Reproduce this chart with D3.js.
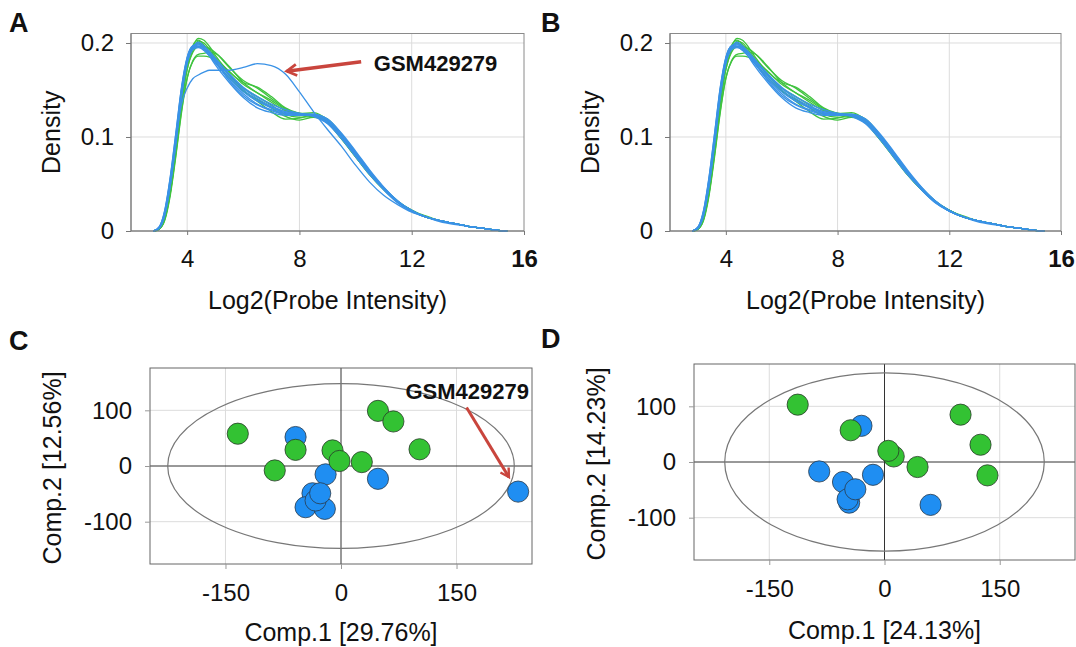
<!DOCTYPE html>
<html>
<head>
<meta charset="utf-8">
<script src="https://cdn.jsdelivr.net/npm/d3@7"></script>
<style>
  body { margin: 0; background: #fff; }
  svg text { font-family: "Liberation Sans", Arial, sans-serif; fill: #111; }
</style>
</head>
<body>
<div id="chart"></div>
<script>
// density curves, x positions shared by every curve
var densX = [2.8, 3.0, 3.2, 3.4, 3.6, 3.8, 4.0, 4.2, 4.4, 4.6, 4.8, 5.0, 5.5, 6.0, 6.5, 7.0, 7.5, 8.0, 8.5, 9.0, 9.5, 10.0, 10.5, 11.0, 11.5, 12.0, 12.5, 13.0, 13.5, 14.0, 14.5, 15.0, 15.4]

var blue1 = [0, 0.003, 0.018, 0.050, 0.097, 0.148, 0.183, 0.197, 0.199, 0.195, 0.188, 0.180, 0.163, 0.148, 0.138, 0.131, 0.126, 0.124, 0.123, 0.116, 0.100, 0.081, 0.062, 0.045, 0.031, 0.021, 0.015, 0.011, 0.008, 0.005, 0.003, 0.001, 0]
var blue2 = [0, 0.004, 0.022, 0.058, 0.105, 0.153, 0.185, 0.196, 0.196, 0.192, 0.186, 0.179, 0.161, 0.146, 0.135, 0.129, 0.125, 0.124, 0.124, 0.118, 0.102, 0.083, 0.063, 0.046, 0.032, 0.022, 0.015, 0.011, 0.008, 0.005, 0.003, 0.001, 0]
var blue3 = [0, 0.003, 0.016, 0.048, 0.092, 0.142, 0.178, 0.193, 0.197, 0.194, 0.189, 0.182, 0.165, 0.150, 0.139, 0.132, 0.127, 0.125, 0.124, 0.119, 0.103, 0.084, 0.064, 0.046, 0.032, 0.021, 0.015, 0.010, 0.007, 0.005, 0.003, 0.001, 0]
var blue4 = [0, 0.004, 0.020, 0.055, 0.100, 0.150, 0.182, 0.195, 0.201, 0.197, 0.190, 0.181, 0.160, 0.144, 0.134, 0.128, 0.124, 0.123, 0.123, 0.117, 0.101, 0.082, 0.063, 0.046, 0.031, 0.021, 0.015, 0.011, 0.008, 0.005, 0.003, 0.001, 0]
var blue5 = [0, 0.003, 0.019, 0.052, 0.098, 0.146, 0.180, 0.194, 0.198, 0.196, 0.191, 0.184, 0.167, 0.152, 0.141, 0.133, 0.127, 0.124, 0.122, 0.115, 0.099, 0.080, 0.061, 0.044, 0.030, 0.021, 0.015, 0.011, 0.008, 0.005, 0.003, 0.001, 0]
var blue6 = [0, 0.004, 0.021, 0.057, 0.104, 0.152, 0.184, 0.197, 0.199, 0.194, 0.186, 0.177, 0.158, 0.142, 0.131, 0.126, 0.123, 0.123, 0.124, 0.119, 0.104, 0.085, 0.065, 0.047, 0.032, 0.022, 0.015, 0.011, 0.008, 0.005, 0.003, 0.001, 0]
var blue7 = [0, 0.003, 0.017, 0.049, 0.095, 0.145, 0.179, 0.193, 0.195, 0.193, 0.189, 0.183, 0.167, 0.153, 0.143, 0.135, 0.129, 0.125, 0.122, 0.114, 0.098, 0.079, 0.060, 0.044, 0.030, 0.021, 0.015, 0.011, 0.008, 0.005, 0.003, 0.001, 0]
var green1 = [0, 0.002, 0.013, 0.042, 0.088, 0.138, 0.176, 0.196, 0.205, 0.203, 0.196, 0.187, 0.169, 0.158, 0.153, 0.143, 0.131, 0.125, 0.123, 0.115, 0.098, 0.079, 0.060, 0.044, 0.031, 0.022, 0.015, 0.011, 0.008, 0.005, 0.003, 0.001, 0]
var green2 = [0, 0.002, 0.012, 0.040, 0.082, 0.128, 0.163, 0.181, 0.188, 0.189, 0.190, 0.189, 0.175, 0.158, 0.147, 0.137, 0.128, 0.125, 0.126, 0.118, 0.100, 0.080, 0.061, 0.045, 0.031, 0.022, 0.015, 0.011, 0.008, 0.005, 0.003, 0.001, 0]
var green3 = [0, 0.003, 0.015, 0.045, 0.090, 0.140, 0.178, 0.195, 0.200, 0.197, 0.191, 0.184, 0.166, 0.150, 0.138, 0.127, 0.119, 0.120, 0.124, 0.119, 0.103, 0.083, 0.063, 0.046, 0.032, 0.022, 0.015, 0.011, 0.008, 0.005, 0.003, 0.001, 0]
var green4 = [0, 0.002, 0.014, 0.044, 0.087, 0.136, 0.172, 0.190, 0.196, 0.196, 0.194, 0.190, 0.174, 0.160, 0.152, 0.141, 0.130, 0.125, 0.124, 0.116, 0.098, 0.079, 0.060, 0.044, 0.031, 0.022, 0.016, 0.011, 0.008, 0.005, 0.003, 0.001, 0]
var green5 = [0, 0.002, 0.013, 0.041, 0.085, 0.134, 0.172, 0.192, 0.202, 0.200, 0.193, 0.185, 0.166, 0.152, 0.143, 0.134, 0.124, 0.121, 0.122, 0.117, 0.100, 0.081, 0.062, 0.045, 0.031, 0.022, 0.015, 0.011, 0.008, 0.005, 0.003, 0.001, 0]
var green6 = [0, 0.002, 0.011, 0.038, 0.080, 0.126, 0.162, 0.180, 0.186, 0.186, 0.185, 0.182, 0.170, 0.156, 0.147, 0.139, 0.129, 0.124, 0.123, 0.117, 0.100, 0.081, 0.062, 0.045, 0.031, 0.022, 0.015, 0.011, 0.008, 0.005, 0.003, 0.001, 0]
var green7 = [0, 0.003, 0.016, 0.047, 0.093, 0.143, 0.180, 0.197, 0.203, 0.198, 0.190, 0.181, 0.163, 0.149, 0.140, 0.131, 0.122, 0.118, 0.121, 0.118, 0.102, 0.082, 0.062, 0.045, 0.031, 0.022, 0.015, 0.011, 0.008, 0.005, 0.003, 0.001, 0]
// GSM429279 before normalisation
var outlier = [0, 0.003, 0.018, 0.052, 0.098, 0.135, 0.152, 0.162, 0.166, 0.169, 0.171, 0.171, 0.171, 0.174, 0.178, 0.176, 0.167, 0.148, 0.127, 0.108, 0.090, 0.070, 0.052, 0.038, 0.028, 0.020, 0.015, 0.011, 0.008, 0.005, 0.003, 0.001, 0]

var greenCurves = [green1, green2, green3, green4, green5, green6, green7]
var blueCurvesA = [blue1, blue2, blue3, blue4, blue5, blue6, blue7, outlier]
var blueCurvesB = [blue1, blue2, blue3, blue4, blue5, blue6, blue7]

var densXTicks = [4, 8, 12, 16]
var densYTicks = [0, 0.1, 0.2]
var densYLabels = ['0', '0.1', '0.2']

// PCA scores [comp1, comp2]
var pcaC_blue = [[-59, 52], [-20, -15], [-37, -49], [-46, -74], [-21, -77], [-33, -62], [-27, -49], [48, -23], [230, -46]]
var pcaC_green = [[-134, 58], [-59, 29], [-86, -8], [-11, 28], [-2, 9], [27, 7], [48, 99], [68, 80], [102, 30]]
var pcaD_blue = [[-30, 65], [-85, -17], [-54, -36], [-46, -73], [-48, -67], [-38, -49], [-15, -23], [60, -77]]
var pcaD_green = [[-113, 103], [-44, 57], [12, 10], [5, 20], [43, -9], [99, 85], [125, 31], [134, -24]]
var ellipseC = [225, 148]
var ellipseD = [208, 160]
var pcaTicksX = [-150, 0, 150]
var pcaTicksY = [-100, 0, 100]

var blueCol = '#3a92e6'
var greenCol = '#3fc33f'
var dotBlue = '#1f8ef2'
var dotGreen = '#33c233'
var red = '#c9453d'

var svg = d3.select('#chart')
            .append('svg')
            .attr('width', 1076)
            .attr('height', 647)

var defs = svg.append('defs')
defs.append('marker')
    .attr('id', 'arrow')
    .attr('viewBox', '0 0 10 10')
    .attr('refX', 8)
    .attr('refY', 5)
    .attr('markerWidth', 4)
    .attr('markerHeight', 4)
    .attr('orient', 'auto')
    .append('path')
    .attr('d', 'M1,1 L8,5 L1,9')
    .attr('fill', 'none')
    .attr('stroke', red)
    .attr('stroke-width', 2)

function panelLetter(x, y, t){
    svg.append('text')
        .attr('x', x)
        .attr('y', y)
        .style('font-size', '27px')
        .style('font-weight', 'bold')
        .text(t)
}

function density(box, greens, blues, note){
    var x = d3.scaleLinear().domain([2, 16]).range([box.l, box.r])
    var y = d3.scaleLinear().domain([0, 0.2101]).range([box.b, box.t])
    var g = svg.append('g')

    // grid
    g.selectAll('.vg').data([4, 8, 12]).enter().append('line')
        .attr('x1', function(d){ return x(d) }).attr('x2', function(d){ return x(d) })
        .attr('y1', box.t).attr('y2', box.b)
        .attr('stroke', '#dcdcdc')
    g.selectAll('.hg').data([0.1, 0.2]).enter().append('line')
        .attr('x1', box.l).attr('x2', box.r)
        .attr('y1', function(d){ return y(d) }).attr('y2', function(d){ return y(d) })
        .attr('stroke', '#dcdcdc')
    g.append('rect')
        .attr('x', box.l).attr('y', box.t)
        .attr('width', box.r - box.l).attr('height', box.b - box.t)
        .attr('fill', 'none').attr('stroke', '#8a8a8a')

    var line = d3.line()
        .x(function(d, i){ return x(densX[i]) })
        .y(function(d){ return y(d) })
        .curve(d3.curveMonotoneX)
    g.selectAll('.gc').data(greens).enter().append('path')
        .attr('d', line).attr('fill', 'none')
        .attr('stroke', greenCol).attr('stroke-width', 1.3)
    g.selectAll('.bc').data(blues).enter().append('path')
        .attr('d', line).attr('fill', 'none')
        .attr('stroke', blueCol).attr('stroke-width', 1.3)

    var ax = g.append('g')
        .attr('transform', 'translate(0,' + box.b + ')')
        .call(d3.axisBottom(x).tickValues(densXTicks).tickSize(4).tickPadding(15).tickFormat(d3.format('d')))
    var ay = g.append('g')
        .attr('transform', 'translate(' + box.l + ',0)')
        .call(d3.axisLeft(y).tickValues(densYTicks).tickSize(5).tickPadding(12).tickFormat(function(d, i){ return densYLabels[i] }))
    ax.select('.domain').remove()
    ay.select('.domain').remove()
    g.selectAll('.tick line').attr('stroke', '#777')
    g.selectAll('.tick text').style('font-size', '24px').style('font-family', '"Liberation Sans", Arial, sans-serif').attr('fill', '#111')
    ax.selectAll('.tick text').filter(function(d){ return d == 16 }).style('font-weight', 'bold')
    g.append('line').attr('x1', box.l).attr('x2', box.r).attr('y1', box.b).attr('y2', box.b).attr('stroke', '#777')
    g.append('line').attr('x1', box.l).attr('x2', box.l).attr('y1', box.t).attr('y2', box.b).attr('stroke', '#777')

    g.append('text')
        .attr('x', (box.l + box.r) / 2)
        .attr('y', box.b + 78)
        .attr('text-anchor', 'middle')
        .style('font-size', '25px')
        .text('Log2(Probe Intensity)')
    g.append('text')
        .attr('transform', 'translate(' + (box.l - 71) + ',' + (box.t + box.b) / 2 + ') rotate(-90)')
        .attr('text-anchor', 'middle')
        .style('font-size', '25px')
        .text('Density')

    if(note){
        g.append('line')
            .attr('x1', x(note.from[0])).attr('y1', y(note.from[1]))
            .attr('x2', x(note.to[0])).attr('y2', y(note.to[1]))
            .attr('stroke', red).attr('stroke-width', 3.5)
            .attr('marker-end', 'url(#arrow)')
        g.append('text')
            .attr('x', x(note.label[0])).attr('y', y(note.label[1]) + 8)
            .style('font-size', '22px').style('font-weight', 'bold')
            .text('GSM429279')
    }
}

function pca(box, blues, greens, ell, xTitle, yTitle, note){
    var x = d3.scaleLinear().domain([-248, 248]).range([box.l, box.r])
    var y = d3.scaleLinear().domain([-176, 176]).range([box.b, box.t])
    var g = svg.append('g')

    g.selectAll('.vg').data([-150, 150]).enter().append('line')
        .attr('x1', function(d){ return x(d) }).attr('x2', function(d){ return x(d) })
        .attr('y1', box.t).attr('y2', box.b)
        .attr('stroke', '#dcdcdc')
    g.selectAll('.hg').data([-100, 100]).enter().append('line')
        .attr('x1', box.l).attr('x2', box.r)
        .attr('y1', function(d){ return y(d) }).attr('y2', function(d){ return y(d) })
        .attr('stroke', '#dcdcdc')
    g.append('line').attr('x1', x(0)).attr('x2', x(0)).attr('y1', box.t).attr('y2', box.b).attr('stroke', '#333')
    g.append('line').attr('x1', box.l).attr('x2', box.r).attr('y1', y(0)).attr('y2', y(0)).attr('stroke', '#333')
    g.append('rect')
        .attr('x', box.l).attr('y', box.t)
        .attr('width', box.r - box.l).attr('height', box.b - box.t)
        .attr('fill', 'none').attr('stroke', '#666')

    g.append('ellipse')
        .attr('cx', x(0)).attr('cy', y(0))
        .attr('rx', x(ell[0]) - x(0)).attr('ry', y(0) - y(ell[1]))
        .attr('fill', 'none').attr('stroke', '#777').attr('stroke-width', 1.2)

    // plain hyphen minus like the original
    var plain = function(d){ return String(d) }
    var ax = g.append('g')
        .attr('transform', 'translate(0,' + box.b + ')')
        .call(d3.axisBottom(x).tickValues(pcaTicksX).tickSize(5).tickPadding(box.xpad).tickFormat(plain))
    var ay = g.append('g')
        .attr('transform', 'translate(' + box.l + ',0)')
        .call(d3.axisLeft(y).tickValues(pcaTicksY).tickSize(5).tickPadding(13).tickFormat(plain))
    ax.select('.domain').remove()
    ay.select('.domain').remove()
    g.selectAll('.tick line').attr('stroke', '#999')
    g.selectAll('.tick text').style('font-size', '24px').style('font-family', '"Liberation Sans", Arial, sans-serif').attr('fill', '#111')

    g.selectAll('.bd').data(blues).enter().append('circle')
        .attr('cx', function(d){ return x(d[0]) }).attr('cy', function(d){ return y(d[1]) })
        .attr('r', 10.6).attr('fill', dotBlue).attr('stroke', '#2a3a4a').attr('stroke-width', 0.8)
    g.selectAll('.gd').data(greens).enter().append('circle')
        .attr('cx', function(d){ return x(d[0]) }).attr('cy', function(d){ return y(d[1]) })
        .attr('r', 10.6).attr('fill', dotGreen).attr('stroke', '#2a3a2a').attr('stroke-width', 0.8)

    g.append('text')
        .attr('x', x(0))
        .attr('y', box.b + box.tpad)
        .attr('text-anchor', 'middle')
        .style('font-size', '25px')
        .text(xTitle)
    g.append('text')
        .attr('transform', 'translate(' + (box.l - 89) + ',' + ((box.t + box.b) / 2 + 2) + ') rotate(-90)')
        .attr('text-anchor', 'middle')
        .style('font-size', '25px')
        .text(yTitle)

    if(note){
        g.append('line')
            .attr('x1', x(note.from[0])).attr('y1', y(note.from[1]))
            .attr('x2', x(note.to[0])).attr('y2', y(note.to[1]))
            .attr('stroke', red).attr('stroke-width', 3)
            .attr('marker-end', 'url(#arrow)')
        g.append('text')
            .attr('x', x(note.label[0])).attr('y', y(note.label[1]) + 8)
            .attr('text-anchor', 'end')
            .style('font-size', '22px').style('font-weight', 'bold')
            .text('GSM429279')
    }
}

density({l: 131, t: 33.5, r: 524, b: 231}, greenCurves, blueCurvesA,
    {from: [10.2, 0.180], to: [7.55, 0.170], label: [10.65, 0.179]})
density({l: 670, t: 33.5, r: 1061, b: 231}, greenCurves, blueCurvesB, null)

pca({l: 150, t: 368, r: 532, b: 564, xpad: 15, tpad: 77}, pcaC_blue, pcaC_green, ellipseC, 'Comp.1 [29.76%]', 'Comp.2 [12.56%]',
    {from: [163, 105], to: [218, -20], label: [244, 135]})
pca({l: 694, t: 364, r: 1075, b: 560, xpad: 15, tpad: 79}, pcaD_blue, pcaD_green, ellipseD, 'Comp.1 [24.13%]', 'Comp.2 [14.23%]', null)

panelLetter(9, 32, 'A')
panelLetter(541, 32, 'B')
panelLetter(9, 350, 'C')
panelLetter(541, 348, 'D')
</script>
</body>
</html>
